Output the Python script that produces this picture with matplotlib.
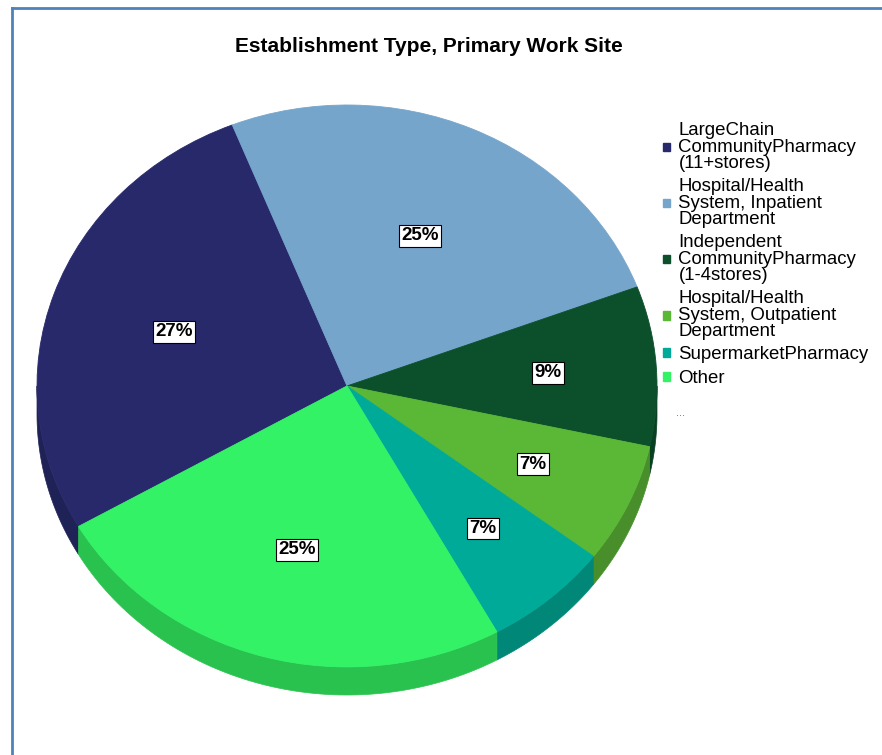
import numpy as np
import matplotlib
matplotlib.use("Agg")
import matplotlib.pyplot as plt
from matplotlib.patches import Polygon, Patch
from matplotlib.lines import Line2D

plt.rcParams['font.family'] = ['Liberation Sans', 'DejaVu Sans']

categories = [
    "LargeChain\nCommunityPharmacy\n(11+stores)",
    "Hospital/Health\nSystem, Inpatient\nDepartment",
    "Independent\nCommunityPharmacy\n(1-4stores)",
    "Hospital/Health\nSystem, Outpatient\nDepartment",
    "SupermarketPharmacy",
    "Other",
]
values = [27.3, 25.3, 9.2, 6.9, 6.6, 24.7]
pct_labels = ["27%", "25%", "9%", "7%", "7%", "25%"]
colors = ["#27296b", "#76a5cc", "#0c4f2b", "#5bb836", "#00aa99", "#33f266"]
side_colors = ["#1f2256", "#5e84a3", "#093f22", "#488f2b", "#008777", "#2ac24f"]

W, H = 882, 755
fig = plt.figure(figsize=(W / 100, H / 100), dpi=100)

# pie axes: ellipse x 37..657 px, top 105 px, bottom of side 695 px
depth = 0.1
ax = fig.add_axes([37 / W, (H - 695) / H, 620 / W, 590 / H])
startangle = 210
wedges, _ = ax.pie(values, colors=colors, startangle=startangle,
                   counterclock=False, radius=1.0,
                   wedgeprops=dict(linewidth=0.6, edgecolor=None))
for w, c in zip(wedges, colors):
    w.set_edgecolor(c)
    w.set_zorder(3)
    w.set_clip_on(False)
ax.set_aspect('auto')
ax.set_xlim(-1, 1)
ax.set_ylim(-1 - depth, 1)
ax.axis('off')

# side walls (3D depth) for front-facing parts
total = sum(values)
ang = startangle
for v, sc in zip(values, side_colors):
    a1 = ang
    a0 = ang - v / total * 360.0
    ang = a0
    lo, hi = a0, a1
    segs = []
    for shift in (-360, 0, 360):
        s0, s1 = max(lo + shift, 180), min(hi + shift, 360)
        if s1 > s0:
            segs.append((s0, s1))
    for s0, s1 in segs:
        t = np.radians(np.linspace(s0, s1, 80))
        xs = np.cos(t)
        ys = np.sin(t)
        pts = np.concatenate([np.column_stack([xs, ys]),
                              np.column_stack([xs[::-1], ys[::-1] - depth])])
        ax.add_patch(Polygon(pts, closed=True, facecolor=sc, edgecolor=sc,
                             linewidth=0.5, zorder=2, clip_on=False))

# percent labels
ang = startangle
dists = [0.59, 0.585, 0.65, 0.66, 0.67, 0.605]
for v, lab, d in zip(values, pct_labels, dists):
    mid = np.radians(ang - v / total * 180.0)
    ang -= v / total * 360.0
    ax.text(d * np.cos(mid), d * np.sin(mid), lab, ha='center', va='center',
            fontsize=13.5, fontweight='bold', zorder=5,
            bbox=dict(boxstyle='square,pad=0.13', facecolor='white',
                      edgecolor='black', linewidth=0.8))

# title
fig.text(429 / W, 1 - 47 / H, "Establishment Type, Primary Work Site",
         ha='center', va='center', fontsize=15, fontweight='bold')

# legend
handles = [Patch(facecolor=c, edgecolor=c) for c in colors]
leg = fig.legend(handles, categories, loc='upper left',
                 bbox_to_anchor=(654 / W, 1 - 113 / H), frameon=False,
                 fontsize=13.4, handlelength=0.36, handleheight=0.36,
                 handletextpad=0.45, labelspacing=0.34, borderpad=0)
for t in leg.get_texts():
    t.set_linespacing(0.95)
fig.text(676 / W, 1 - 413 / H, "...", fontsize=8, color='#666666',
         ha='left', va='center')

# frame lines
fig.add_artist(Line2D([12 / W, 12 / W], [0, 1 - 8 / H], color='#4f81bd',
                      linewidth=2, transform=fig.transFigure))
fig.add_artist(Line2D([12 / W, 1], [1 - 8 / H, 1 - 8 / H], color='#4f81bd',
                      linewidth=2, transform=fig.transFigure))

fig.savefig("out.png", dpi=100, facecolor='white')
